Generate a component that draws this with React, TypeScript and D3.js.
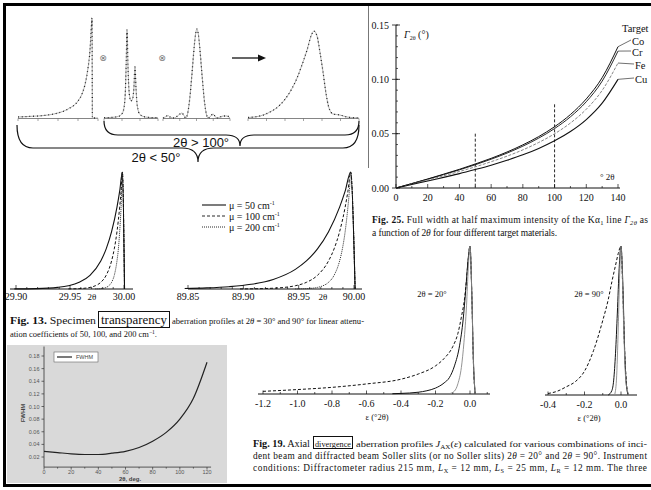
import React from 'react';
import * as d3 from 'd3';

const SERIF = '"Liberation Serif", "Times New Roman", serif';
const SANS = '"Liberation Sans", Arial, Helvetica, sans-serif';

// ---------- Convolution schematic (aberration ⊗ emission ⊗ instrument → observed) ----------
const aberrU = [0, 0.5, 1, 1.5, 2, 2.5, 3, 3.2, 3.4, 3.5, 3.6, 3.65, 3.68, 3.7, 3.72, 4];
const aberrI = [0.01, 0.015, 0.02, 0.03, 0.05, 0.09, 0.17, 0.24, 0.38, 0.5, 0.68, 0.85, 0.95, 1.0, 0, 0];
const emissionU = [0, 0.5, 0.8, 1.0, 1.1, 1.18, 1.23, 1.28, 1.33, 1.4, 1.5, 1.6, 1.66, 1.72, 1.78, 1.85, 2.0, 2.3, 2.7, 3.0];
const emissionI = [0.003, 0.007, 0.016, 0.042, 0.093, 0.24, 0.52, 0.88, 0.53, 0.25, 0.17, 0.2, 0.3, 0.51, 0.29, 0.12, 0.035, 0.01, 0.004, 0.003];
const instrU = [0, 0.1, 0.22, 0.35, 0.5, 0.7, 0.85, 0.95, 1.02, 1.1, 1.2, 1.3, 1.4, 1.46, 1.52, 1.58, 1.64, 1.74, 1.84, 1.94, 2.02, 2.1, 2.24, 2.4, 2.55, 2.7, 2.87, 3.0];
const instrI = [0, 0.01, 0.025, 0.005, 0, 0.03, 0.05, 0.02, 0, 0.04, 0.2, 0.45, 0.72, 0.84, 0.89, 0.84, 0.72, 0.45, 0.2, 0.04, 0, 0.01, 0.04, 0, 0.01, 0.02, 0.02, 0];
const observedU = [0, 0.54, 0.99, 1.44, 1.89, 2.21, 2.43, 2.66, 2.84, 2.97, 3.11, 3.24, 3.38, 3.51, 3.65, 3.83, 4.14, 4.46, 5.0];
const observedI = [0.005, 0.02, 0.06, 0.13, 0.26, 0.4, 0.53, 0.68, 0.82, 0.87, 0.82, 0.66, 0.46, 0.25, 0.1, 0.04, 0.03, 0.01, 0];

// ---------- Fig. 25: Kα1 line width vs 2θ ----------
const twoTheta25 = [0, 10, 20, 30, 40, 50, 60, 70, 80, 90, 100, 110, 120, 130, 140];
const fwhmCo = [0, 0.0041, 0.0083, 0.0127, 0.0172, 0.0221, 0.0273, 0.0331, 0.0397, 0.0473, 0.0564, 0.0676, 0.082, 0.1015, 0.13];
const fwhmCr = [0, 0.004, 0.0081, 0.0123, 0.0167, 0.0214, 0.0265, 0.0321, 0.0385, 0.0459, 0.0547, 0.0655, 0.0794, 0.0983, 0.126];
const fwhmFe = [0, 0.0037, 0.0074, 0.0112, 0.0152, 0.0195, 0.0242, 0.0293, 0.0351, 0.0419, 0.0499, 0.0598, 0.0725, 0.0898, 0.115];
const fwhmCu = [0, 0.0032, 0.0064, 0.0098, 0.0132, 0.017, 0.021, 0.0255, 0.0305, 0.0364, 0.0434, 0.052, 0.063, 0.0781, 0.1];
const targetNames = ['Co', 'Cr', 'Fe', 'Cu'];
const xTicks25 = [0, 20, 40, 60, 80, 100, 120, 140];
const yTicks25 = [0, 0.05, 0.1, 0.15];
const markerAngles25 = [50, 100];
const markerTops25 = [0.05, 0.077];

// ---------- Fig. 13: transparency profiles (offset from apex, normalized intensity) ----------
const peakShift = -0.0015;
const off30Solid = [-0.1, -0.08, -0.06, -0.05, -0.04, -0.03, -0.02, -0.015, -0.01, -0.005, -0.0025, 0, 0.002];
const int30Solid = [0.0008, 0.0033, 0.014, 0.028, 0.057, 0.117, 0.24, 0.343, 0.49, 0.7, 0.836, 1, 0];
const off30Dash = [-0.05, -0.04, -0.03, -0.025, -0.02, -0.015, -0.01, -0.0075, -0.005, -0.0025, -0.0012, 0, 0.002];
const int30Dash = [0.0008, 0.0033, 0.0137, 0.028, 0.057, 0.117, 0.24, 0.343, 0.49, 0.7, 0.836, 1, 0];
const off30Dot = [-0.025, -0.02, -0.015, -0.0125, -0.01, -0.0075, -0.005, -0.0037, -0.0025, -0.0012, -0.0006, 0, 0.002];
const int30Dot = [0.0008, 0.0033, 0.0137, 0.028, 0.057, 0.117, 0.24, 0.343, 0.49, 0.7, 0.836, 1, 0];
const off90Solid = [-0.15, -0.13, -0.11, -0.09, -0.07, -0.05, -0.04, -0.03, -0.02, -0.01, -0.005, 0, 0.004];
const int90Solid = [0.0047, 0.0096, 0.0197, 0.04, 0.082, 0.168, 0.24, 0.343, 0.49, 0.7, 0.836, 1, 0];
const off90Dash = [-0.1, -0.08, -0.06, -0.05, -0.04, -0.03, -0.02, -0.015, -0.01, -0.005, -0.0025, 0, 0.004];
const int90Dash = [0.0008, 0.0033, 0.0137, 0.028, 0.057, 0.117, 0.24, 0.343, 0.49, 0.7, 0.836, 1, 0];
const off90Dot = [-0.05, -0.04, -0.03, -0.025, -0.02, -0.015, -0.01, -0.0075, -0.005, -0.0025, -0.0012, 0, 0.004];
const int90Dot = [0.0008, 0.0033, 0.0137, 0.028, 0.057, 0.117, 0.24, 0.343, 0.49, 0.7, 0.836, 1, 0];
const muValues = [50, 100, 200];

// ---------- Instrument FWHM curve ----------
const fwhm2Theta = [0, 10, 20, 30, 40, 50, 60, 70, 80, 90, 100, 110, 120];
const fwhmValues = [0.029, 0.027, 0.025, 0.024, 0.024, 0.026, 0.029, 0.035, 0.045, 0.059, 0.08, 0.113, 0.17];
const fwhmYTicks = [0.02, 0.04, 0.06, 0.08, 0.1, 0.12, 0.14, 0.16, 0.18];
const fwhmXTicks = [0, 20, 40, 60, 80, 100, 120];

// ---------- Fig. 19: axial divergence profiles ----------
const eps20Dash = [-1.2, -1.0, -0.8, -0.6, -0.4, -0.3, -0.2, -0.15, -0.1, -0.07, -0.05, -0.03, -0.02, -0.01, 0, 0.01, 0.02, 0.03];
const j20Dash = [0.018, 0.03, 0.045, 0.068, 0.1, 0.135, 0.19, 0.24, 0.32, 0.41, 0.52, 0.66, 0.78, 0.91, 1.0, 0.7, 0.2, 0];
const eps20Solid = [-0.45, -0.4, -0.3, -0.25, -0.2, -0.15, -0.12, -0.09, -0.06, -0.04, -0.025, -0.01, 0, 0.01, 0.02, 0.03];
const j20Solid = [0.002, 0.004, 0.012, 0.022, 0.04, 0.075, 0.11, 0.19, 0.33, 0.5, 0.7, 0.92, 1.0, 0.7, 0.22, 0];
const eps20Both = [-0.12, -0.09, -0.07, -0.05, -0.035, -0.02, -0.01, 0, 0.01, 0.02, 0.03];
const j20Both = [0.002, 0.02, 0.07, 0.18, 0.35, 0.6, 0.85, 1.0, 0.7, 0.22, 0];
const eps90Dash = [-0.4, -0.35, -0.3, -0.25, -0.2, -0.15, -0.1, -0.07, -0.05, -0.03, -0.015, 0, 0.01, 0.02, 0.03, 0.04];
const j90Dash = [0.01, 0.025, 0.055, 0.09, 0.16, 0.3, 0.5, 0.64, 0.76, 0.87, 0.95, 1.0, 0.7, 0.3, 0.08, 0];
const eps90Solid = [-0.07, -0.05, -0.04, -0.03, -0.02, -0.01, 0, 0.01, 0.02, 0.03, 0.04];
const j90Solid = [0, 0.03, 0.1, 0.28, 0.55, 0.85, 1.0, 0.75, 0.3, 0.06, 0];
const eps90Both = [-0.035, -0.025, -0.015, -0.007, 0, 0.007, 0.015, 0.025, 0.035, 0.045];
const j90Both = [0, 0.1, 0.45, 0.82, 1.0, 0.82, 0.45, 0.12, 0.03, 0];
const epsTicks20 = [-1.2, -1.0, -0.8, -0.6, -0.4, -0.2, 0.0];
const epsTicks90 = [-0.4, -0.2, 0.0];

type Lin = d3.ScaleLinear<number, number>;

function pathOf(xs: Lin, ys: Lin, xv: number[], yv: number[], shift = 0) {
  return (
    d3
      .line<number>()
      .x((_, i) => xs(xv[i] + shift))
      .y((d) => ys(d))
      .curve(d3.curveMonotoneX)(yv) || ''
  );
}

function brace(xl: number, xr: number, yTop: number, yBar: number, xTip: number, yTip: number, r: number) {
  const p = d3.path();
  p.moveTo(xl, yTop);
  p.quadraticCurveTo(xl, yBar, xl + r, yBar);
  p.lineTo(xTip - r, yBar);
  p.quadraticCurveTo(xTip, yBar, xTip, yTip);
  p.quadraticCurveTo(xTip, yBar, xTip + r, yBar);
  p.lineTo(xr - r, yBar);
  p.quadraticCurveTo(xr, yBar, xr, yTop);
  return p.toString();
}

function SchematicProfile({ u, v, x0, x1, uMax, ticks }: { u: number[]; v: number[]; x0: number; x1: number; uMax: number; ticks: number[] }) {
  const xs = d3.scaleLinear().domain([0, uMax]).range([x0, x1]);
  const ys = d3.scaleLinear().domain([0, 1]).range([118, 18]);
  const d = pathOf(xs, ys, u, v);
  return (
    <g>
      <line x1={x0} x2={x1} y1={118.5} y2={118.5} stroke="#666" strokeWidth={0.8} />
      {ticks.map((t) => (
        <line key={t} x1={xs(t)} x2={xs(t)} y1={118.5} y2={121} stroke="#666" strokeWidth={0.6} />
      ))}
      <path d={d} fill="none" stroke="#a8a8a8" strokeWidth={0.9} />
      <path d={d} fill="none" stroke="#111" strokeWidth={1.3} strokeDasharray="0.8 3" />
    </g>
  );
}

function Schematic() {
  return (
    <g>
      <SchematicProfile u={aberrU} v={aberrI} x0={18} x1={98} uMax={4} ticks={[0, 1, 2, 3, 4]} />
      <SchematicProfile u={emissionU} v={emissionI} x0={104} x1={158} uMax={3} ticks={[0, 1, 2, 3]} />
      <SchematicProfile u={instrU} v={instrI} x0={163} x1={230} uMax={3} ticks={[0, 0.75, 1.5, 2.25, 3]} />
      <SchematicProfile u={observedU} v={observedI} x0={248} x1={359} uMax={5} ticks={d3.range(0, 5.01, 5 / 6)} />
      <text x={103} y={60.5} fontFamily='"DejaVu Sans", sans-serif' fontSize={9} fill="#777" textAnchor="middle">⊗</text>
      <text x={162} y={60.5} fontFamily='"DejaVu Sans", sans-serif' fontSize={9} fill="#777" textAnchor="middle">⊗</text>
      <line x1={232} x2={259} y1={58} y2={58} stroke="#111" strokeWidth={1.3} />
      <path d="M266,58 L258,54.5 L258,61.5 Z" fill="#111" />
      <path d={brace(104, 359, 121, 135, 240, 146, 14)} fill="none" stroke="#111" strokeWidth={1.2} />
      <path d={brace(17, 359, 125, 148, 198, 162, 16)} fill="none" stroke="#111" strokeWidth={1.2} />
      <text x={201} y={147} fontFamily={SANS} fontSize={13} textAnchor="middle" fill="#111">2θ &gt; 100°</text>
      <text x={156} y={162} fontFamily={SANS} fontSize={13} textAnchor="middle" fill="#111">2θ &lt; 50°</text>
      <line x1={368.5} x2={368.5} y1={6} y2={168} stroke="#777" strokeWidth={1} />
    </g>
  );
}

function Fig25() {
  const xs = d3.scaleLinear().domain([0, 140]).range([396, 618]);
  const ys = d3.scaleLinear().domain([0, 0.15]).range([188, 25]);
  const series = [fwhmCo, fwhmCr, fwhmFe, fwhmCu];
  const styles = [
    { stroke: '#111', dash: undefined, w: 1 },
    { stroke: '#111', dash: undefined, w: 0.9 },
    { stroke: '#777', dash: '3 1.5', w: 0.9 },
    { stroke: '#111', dash: undefined, w: 1.1 },
  ];
  const labelPos = [
    [632, 45],
    [632, 56],
    [635, 69],
    [635, 83],
  ];
  return (
    <g fontFamily={SERIF} fill="#111">
      <line x1={396} x2={396} y1={188} y2={25} stroke="#111" strokeWidth={1} />
      <line x1={396} x2={620} y1={188} y2={188} stroke="#111" strokeWidth={1} />
      {d3.range(0, 0.1501, 0.01).map((t) => (
        <line key={'ym' + t} x1={396} x2={398} y1={ys(t)} y2={ys(t)} stroke="#111" strokeWidth={0.7} />
      ))}
      {yTicks25.map((t) => (
        <g key={'y' + t}>
          <line x1={392} x2={400} y1={ys(t)} y2={ys(t)} stroke="#111" strokeWidth={0.8} />
          <text x={389} y={ys(t) + 3.5} fontSize={10} textAnchor="end">{t.toFixed(2)}</text>
        </g>
      ))}
      {d3.range(0, 141, 10).map((t) => (
        <line key={'xm' + t} x1={xs(t)} x2={xs(t)} y1={188} y2={t % 20 === 0 ? 184 : 186} stroke="#111" strokeWidth={0.7} />
      ))}
      {xTicks25.map((t) => (
        <text key={'x' + t} x={xs(t)} y={201} fontSize={10} textAnchor="middle">{t}</text>
      ))}
      {markerAngles25.map((a, i) => (
        <line key={'m' + a} x1={xs(a)} x2={xs(a)} y1={ys(markerTops25[i])} y2={188} stroke="#111" strokeWidth={0.9} strokeDasharray="3 2" />
      ))}
      {series.map((s, i) => (
        <path
          key={targetNames[i]}
          d={pathOf(xs, ys, twoTheta25, s)}
          fill="none"
          stroke={styles[i].stroke}
          strokeWidth={styles[i].w}
          strokeDasharray={styles[i].dash}
        />
      ))}
      {series.map((s, i) => (
        <g key={'lab' + i}>
          <line x1={xs(140)} y1={ys(s[s.length - 1])} x2={labelPos[i][0] - 1} y2={labelPos[i][1] - 5} stroke="#111" strokeWidth={0.6} />
          <text x={labelPos[i][0]} y={labelPos[i][1]} fontSize={10.5}>{targetNames[i]}</text>
        </g>
      ))}
      <text x={622} y={32} fontSize={10.5}>Target</text>
      <text x={404} y={38} fontSize={10}>
        <tspan fontStyle="italic">Γ</tspan>
        <tspan fontSize={6} dy={2}>2θ</tspan>
        <tspan dy={-2}> (°)</tspan>
      </text>
      <text x={600} y={180} fontSize={9}>° 2θ</text>
      <text x={372} y={223} fontSize={9.5} textLength={276} lengthAdjust="spacing">
        <tspan fontWeight="bold">Fig. 25.</tspan> Full width at half maximum intensity of the K
        <tspan>α</tspan>
        <tspan fontSize={6.5} dy={2}>1</tspan>
        <tspan dy={-2}> line </tspan>
        <tspan fontStyle="italic">Γ</tspan>
        <tspan fontSize={6.5} fontStyle="italic" dy={2}>2θ</tspan>
        <tspan dy={-2}> as</tspan>
      </text>
      <text x={372} y={236} fontSize={9.5} textLength={185} lengthAdjust="spacing">
        a function of 2<tspan fontStyle="italic">θ</tspan> for four different target materials.
      </text>
    </g>
  );
}

function TransparencyPlot({
  domain, range, axis, apexAt, labels, twoThetaX, curves,
}: {
  domain: [number, number];
  range: [number, number];
  axis: [number, number];
  apexAt: number;
  labels: number[];
  twoThetaX: number;
  curves: { off: number[]; val: number[] }[];
}) {
  const xs = d3.scaleLinear().domain(domain).range(range);
  const ys = d3.scaleLinear().domain([0, 1]).range([289, 172]);
  const styles = [
    { dash: undefined, w: 1.1 },
    { dash: '3 2', w: 1 },
    { dash: '1 1', w: 0.9 },
  ];
  const minor = d3.range(Math.round(domain[0] * 100), Math.round(domain[1] * 100) + 1).map((k) => k / 100);
  return (
    <g>
      <line x1={axis[0]} x2={axis[1]} y1={289} y2={289} stroke="#111" strokeWidth={1} />
      {minor.map((t) => (
        <line key={t} x1={xs(t)} x2={xs(t)} y1={289} y2={labels.some((l) => Math.abs(l - t) < 1e-6) ? 285 : 287} stroke="#111" strokeWidth={0.7} />
      ))}
      {labels.map((t) => (
        <text key={t} x={xs(t)} y={300} fontFamily={SERIF} fontSize={10} textAnchor="middle" fill="#111">{t.toFixed(2)}</text>
      ))}
      <text x={twoThetaX} y={300} fontFamily={SERIF} fontSize={9} textAnchor="middle" fill="#111">2θ</text>
      {curves.map((c, i) => (
        <path
          key={i}
          d={pathOf(xs, ys, c.off, c.val, apexAt)}
          fill="none"
          stroke="#111"
          strokeWidth={styles[i].w}
          strokeDasharray={styles[i].dash}
        />
      ))}
    </g>
  );
}

function Fig13() {
  const legendY = [205, 216, 227];
  const legendDash = [undefined, '3 2', '1 1'];
  return (
    <g>
      <TransparencyPlot
        domain={[29.9, 30.0]}
        range={[16, 124]}
        axis={[10, 133]}
        apexAt={30.0 + peakShift}
        labels={[29.9, 29.95, 30.0]}
        twoThetaX={92}
        curves={[
          { off: off30Solid, val: int30Solid },
          { off: off30Dash, val: int30Dash },
          { off: off30Dot, val: int30Dot },
        ]}
      />
      <TransparencyPlot
        domain={[89.85, 90.0]}
        range={[188, 354]}
        axis={[188, 362]}
        apexAt={90.0 + peakShift * 2}
        labels={[89.85, 89.9, 89.95, 90.0]}
        twoThetaX={323}
        curves={[
          { off: off90Solid, val: int90Solid },
          { off: off90Dash, val: int90Dash },
          { off: off90Dot, val: int90Dot },
        ]}
      />
      {muValues.map((mu, i) => (
        <g key={mu}>
          <line x1={202} x2={226} y1={legendY[i]} y2={legendY[i]} stroke="#111" strokeWidth={i === 0 ? 1.1 : 0.9} strokeDasharray={legendDash[i]} />
          <text x={229} y={legendY[i] + 3.5} fontFamily={SERIF} fontSize={10} fill="#111">
            μ = {mu} cm<tspan fontSize={6} dy={-4}>-1</tspan>
          </text>
        </g>
      ))}
      <g fontFamily={SERIF} fill="#111">
        <text x={10} y={323.5} fontSize={10.5} textLength={86} lengthAdjust="spacingAndGlyphs">
          <tspan fontWeight="bold">Fig. 13.</tspan>  Specimen
        </text>
        <text x={101} y={323.5} fontSize={12} textLength={66} lengthAdjust="spacingAndGlyphs">transparency</text>
        <text x={172} y={323.5} fontSize={8.2} textLength={192} lengthAdjust="spacingAndGlyphs">
          aberration profiles at 2<tspan fontStyle="italic">θ</tspan> = 30° and 90° for linear attenu-
        </text>
        <text x={10} y={337} fontSize={8.3} textLength={147} lengthAdjust="spacingAndGlyphs">
          ation coefficients of 50, 100, and 200 cm<tspan fontSize={5.5} dy={-3.5}>−1</tspan><tspan dy={3.5}>.</tspan>
        </text>
      </g>
      <rect x={98.5} y={311.5} width={71} height={16} fill="none" stroke="#111" strokeWidth={1} />
    </g>
  );
}

function FwhmPanel() {
  const xs = d3.scaleLinear().domain([0, 120]).range([44, 207]);
  const ys = d3.scaleLinear().domain([0.02, 0.18]).range([457, 356]);
  const axisCol = '#333';
  return (
    <g fontFamily={SANS}>
      <rect x={7} y={345} width={220} height={138} fill="#d9d9d9" />
      <line x1={44} x2={44} y1={ys(0.004)} y2={ys(0.195)} stroke={axisCol} strokeWidth={0.8} />
      <line x1={44} x2={xs(123)} y1={ys(0.004)} y2={ys(0.004)} stroke={axisCol} strokeWidth={0.8} />
      {fwhmYTicks.map((t) => (
        <g key={t}>
          <line x1={41.5} x2={44} y1={ys(t)} y2={ys(t)} stroke={axisCol} strokeWidth={0.7} />
          <text x={39.5} y={ys(t) + 2} fontSize={5.5} textAnchor="end" fill="#555">{t.toFixed(2)}</text>
        </g>
      ))}
      {d3.range(0, 121, 10).map((t) => (
        <line key={'xm' + t} x1={xs(t)} x2={xs(t)} y1={ys(0.004)} y2={ys(0.004) + (t % 20 === 0 ? 2.5 : 1.5)} stroke={axisCol} strokeWidth={0.7} />
      ))}
      {fwhmXTicks.map((t) => (
        <text key={'x' + t} x={xs(t)} y={473.5} fontSize={5.5} textAnchor="middle" fill="#555">{t}</text>
      ))}
      <path d={pathOf(xs, ys, fwhm2Theta, fwhmValues)} fill="none" stroke="#222" strokeWidth={1.2} />
      <rect x={54} y={352} width={44} height={10} fill="#fff" stroke="#666" strokeWidth={0.6} />
      <line x1={57} x2={72} y1={357} y2={357} stroke="#222" strokeWidth={1.2} />
      <text x={76} y={359} fontSize={5.5} fill="#444">FWHM</text>
      <text transform="translate(25,413) rotate(-90)" fontSize={6} fontWeight="bold" textAnchor="middle" fill="#444">FWHM</text>
      <text x={130} y={480.5} fontSize={6} fontWeight="bold" textAnchor="middle" fill="#444">2θ, deg.</text>
    </g>
  );
}

function DivergencePlot({
  domain, range, axis, ticks, label, labelAt, axisLabelX, curves, baseY,
}: {
  domain: [number, number];
  range: [number, number];
  axis: [number, number];
  ticks: number[];
  label: string;
  labelAt: number;
  axisLabelX: number;
  curves: { e: number[]; j: number[] }[];
  baseY: number;
}) {
  const xs = d3.scaleLinear().domain(domain).range(range);
  const ys = d3.scaleLinear().domain([0, 1]).range([baseY, 246]);
  const styles = [
    { stroke: '#111', dash: '3 2', w: 1 },
    { stroke: '#111', dash: undefined, w: 1 },
    { stroke: '#888', dash: undefined, w: 0.9 },
  ];
  const lo = Math.ceil(xs.invert(axis[0]) * 10);
  const hi = Math.floor(xs.invert(axis[1]) * 10);
  return (
    <g fontFamily={SERIF} fill="#111">
      <line x1={axis[0]} x2={axis[1]} y1={baseY} y2={baseY} stroke="#111" strokeWidth={1} />
      {d3.range(lo, hi + 1).map((k) => (
        <line key={k} x1={xs(k / 10)} x2={xs(k / 10)} y1={baseY} y2={baseY - (k % 2 === 0 ? 3.5 : 2)} stroke="#111" strokeWidth={0.7} />
      ))}
      {ticks.map((t) => (
        <text key={t} x={xs(t)} y={baseY + 13} fontSize={10} textAnchor="middle">{t.toFixed(1)}</text>
      ))}
      <text x={axisLabelX} y={baseY + 26} fontSize={8.5} textAnchor="middle">ε (°2θ)</text>
      {curves.map((c, i) => (
        <path key={i} d={pathOf(xs, ys, c.e, c.j)} fill="none" stroke={styles[i].stroke} strokeWidth={styles[i].w} strokeDasharray={styles[i].dash} />
      ))}
      <text x={labelAt} y={297} fontSize={8.5} textAnchor="middle">{label}</text>
    </g>
  );
}

function Fig19() {
  return (
    <g>
      <DivergencePlot
        domain={[-1.2, 0]}
        range={[263, 470]}
        axis={[258, 490]}
        ticks={epsTicks20}
        label="2θ = 20°"
        labelAt={432}
        axisLabelX={377}
        baseY={394}
        curves={[
          { e: eps20Dash, j: j20Dash },
          { e: eps20Solid, j: j20Solid },
          { e: eps20Both, j: j20Both },
        ]}
      />
      <DivergencePlot
        domain={[-0.4, 0]}
        range={[548, 621]}
        axis={[545, 637]}
        ticks={epsTicks90}
        label="2θ = 90°"
        labelAt={589}
        axisLabelX={589}
        baseY={395}
        curves={[
          { e: eps90Dash, j: j90Dash },
          { e: eps90Solid, j: j90Solid },
          { e: eps90Both, j: j90Both },
        ]}
      />
      <g fontFamily={SERIF} fill="#111">
        <text x={253} y={446.5} fontSize={9.5} textLength={57} lengthAdjust="spacingAndGlyphs">
          <tspan fontWeight="bold">Fig. 19.</tspan>  Axial
        </text>
        <text x={315} y={446.5} fontSize={8.6} textLength={36} lengthAdjust="spacingAndGlyphs">divergence</text>
        <text x={356} y={446.5} fontSize={9.2} textLength={291} lengthAdjust="spacingAndGlyphs">
          aberration profiles <tspan fontStyle="italic">J</tspan>
          <tspan fontSize={6.2} dy={2}>AX</tspan>
          <tspan dy={-2}>(</tspan>
          <tspan fontStyle="italic">ε</tspan>) calculated for various combinations of inci-
        </text>
        <text x={253} y={458.5} fontSize={9.3} textLength={394} lengthAdjust="spacing">
          dent beam and diffracted beam Soller slits (or no Soller slits) 2<tspan fontStyle="italic">θ</tspan> = 20° and 2<tspan fontStyle="italic">θ</tspan> = 90°. Instrument
        </text>
        <text x={253} y={470.5} fontSize={9.3} textLength={394} lengthAdjust="spacing">
          conditions: Diffractometer radius 215 mm, <tspan fontStyle="italic">L</tspan>
          <tspan fontSize={6.2} dy={2}>X</tspan>
          <tspan dy={-2}> = 12 mm, </tspan>
          <tspan fontStyle="italic">L</tspan>
          <tspan fontSize={6.2} dy={2}>S</tspan>
          <tspan dy={-2}> = 25 mm, </tspan>
          <tspan fontStyle="italic">L</tspan>
          <tspan fontSize={6.2} dy={2}>R</tspan>
          <tspan dy={-2}> = 12 mm. The three</tspan>
        </text>
      </g>
      <rect x={313.5} y={436.5} width={39} height={12} fill="none" stroke="#111" strokeWidth={1} />
    </g>
  );
}

export default function App() {
  return (
    <svg
      width={651}
      height={490}
      viewBox="0 0 651 490"
      style={{ position: 'absolute', left: 0, top: 0, background: '#fff' }}
    >
      <rect x={0} y={0} width={651} height={490} fill="#fff" />
      <Schematic />
      <Fig25 />
      <Fig13 />
      <FwhmPanel />
      <Fig19 />
      <path d="M651,4.5 H4.5 V485.5 H651" fill="none" stroke="#000" strokeWidth={3} />
    </svg>
  );
}
